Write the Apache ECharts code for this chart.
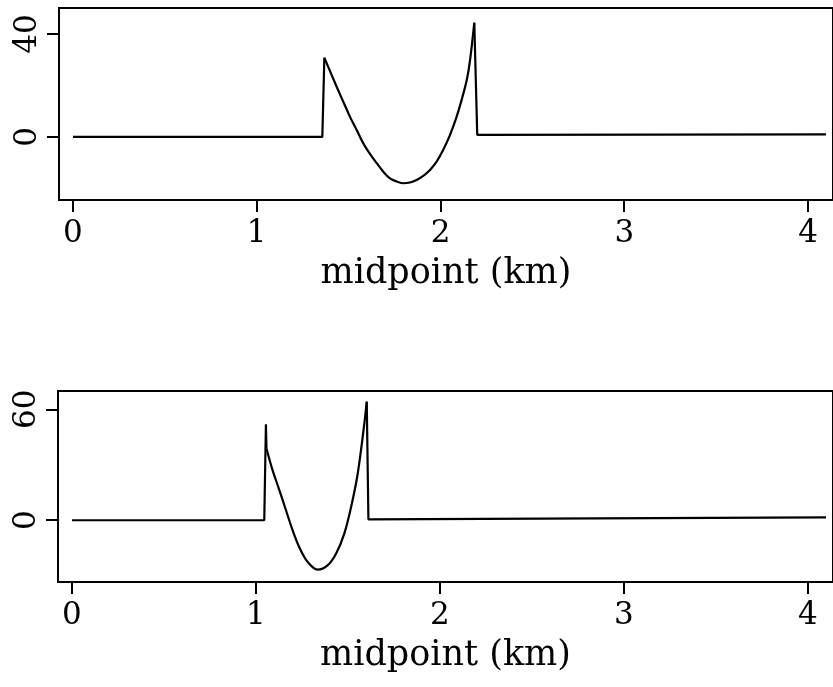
<!DOCTYPE html>
<html>
<head>
<meta charset="utf-8">
<script src="https://cdn.jsdelivr.net/npm/echarts@6/dist/echarts.min.js"></script>
<style>
  html, body { margin: 0; padding: 0; background: #fff; }
  #chart { width: 833px; height: 687px; }
</style>
</head>
<body>
<div id="chart"></div>
<script>
// top trace (midpoint km, amplitude)
var topX = [0, 1.357, 1.368, 1.435, 1.471, 1.507, 1.544, 1.580, 1.616, 1.653, 1.689, 1.725, 1.762, 1.798,
  1.834, 1.870, 1.906, 1.943, 1.979, 2.015, 2.052, 2.088, 2.115, 2.143, 2.161, 2.184, 2.200, 4.098]
var topY = [0, 0, 30.8, 19.5, 13.7, 7.9, 2.7, -2.5, -6.6, -10.2, -13.5, -16.1, -17.3, -18.0,
  -17.7, -16.7, -15.1, -12.8, -9.6, -5.0, 0.8, 7.9, 14.4, 22.1, 29.9, 44.4, 0.8, 1.0]

// bottom trace
var botX = [0, 1.045, 1.054, 1.057, 1.090, 1.127, 1.163, 1.199, 1.235, 1.281, 1.335, 1.389, 1.435,
  1.480, 1.517, 1.553, 1.589, 1.602, 1.611, 4.098]
var botY = [0, 0, 51.9, 38.8, 27.1, 16.3, 5.4, -5.4, -14.5, -22.6, -26.7, -24.4, -18.1,
  -7.2, 7.2, 25.3, 52.4, 64.1, 0.5, 1.6]

var xTicks = [0, 1, 2, 3, 4]
var topYTicks = [0, 40]
var botYTicks = [0, 60]

var font = 'DejaVu Serif'

function pairs(xs, ys) {
  return xs.map(function (x, i) { return [x, ys[i]] })
}

function xAxisOf(idx) {
  return {
    type: 'value',
    gridIndex: idx,
    min: -0.076,
    max: 4.136,
    axisLine: { onZero: false, lineStyle: { color: '#000', width: 2 } },
    splitLine: { lineStyle: { opacity: 0 } },
    axisTick: { customValues: xTicks, length: 12, lineStyle: { color: '#000', width: 2 } },
    axisLabel: { customValues: xTicks, color: '#000', fontSize: 31, fontFamily: font, margin: 18 },
    name: 'midpoint (km)',
    nameLocation: 'middle',
    nameGap: 56,
    nameTextStyle: { color: '#000', fontSize: 35, fontFamily: font }
  }
}

function yAxisOf(idx, min, max, ticks) {
  return {
    type: 'value',
    gridIndex: idx,
    min: min,
    max: max,
    axisLine: { show: true, onZero: false, lineStyle: { color: '#000', width: 2 } },
    splitLine: { lineStyle: { opacity: 0 } },
    axisTick: { show: true, customValues: ticks, length: 12, lineStyle: { color: '#000', width: 2 } },
    axisLabel: { customValues: ticks, color: '#000', fontSize: 31, fontFamily: font, rotate: 90, margin: 16 }
  }
}

// straight jumps, smooth curve between the two peaks
function traceSeries(idx, xs, ys, a, b) {
  var d = pairs(xs, ys)
  var base = { type: 'line', xAxisIndex: idx, yAxisIndex: idx, showSymbol: false,
    lineStyle: { color: '#000', width: 2.2 } }
  return [
    Object.assign({}, base, { data: d.slice(0, a + 1) }),
    Object.assign({}, base, { data: d.slice(a, b + 1), smooth: 0.35 }),
    Object.assign({}, base, { data: d.slice(b) })
  ]
}

var chart = echarts.init(document.getElementById('chart'))
var options = {
  animation: false,
  grid: [
    { left: 59, right: 0, top: 8, height: 192, show: true, borderColor: '#000', borderWidth: 2 },
    { left: 58, right: 0, top: 391, height: 191, show: true, borderColor: '#000', borderWidth: 2 }
  ],
  xAxis: [xAxisOf(0), xAxisOf(1)],
  yAxis: [yAxisOf(0, -24.5, 50.1, topYTicks), yAxisOf(1, -33.4, 69.9, botYTicks)],
  series: traceSeries(0, topX, topY, 2, 25).concat(traceSeries(1, botX, botY, 3, 17))
}
chart.setOption(options)
</script>
</body>
</html>
